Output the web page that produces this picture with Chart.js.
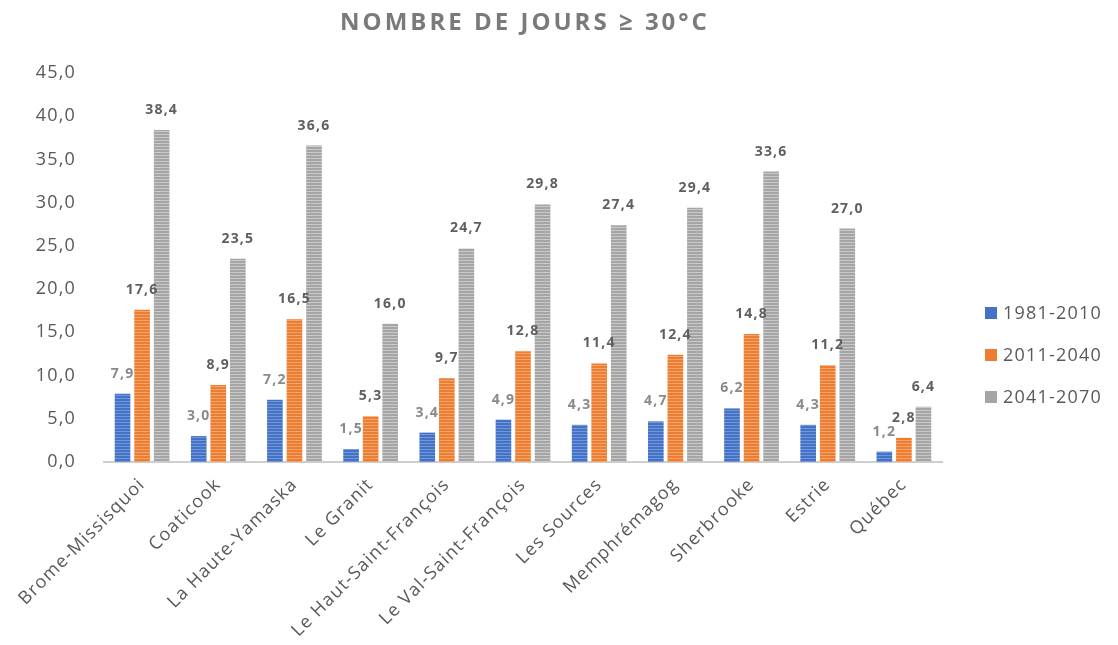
<!DOCTYPE html>
<html>
<head>
<meta charset="utf-8">
<title>Nombre de jours ≥ 30°C</title>
<script src="https://cdn.jsdelivr.net/npm/chart.js@4.4.1/dist/chart.umd.min.js"></script>
<style>
  html, body { margin: 0; padding: 0; background: #fff; }
  #wrap { width: 1118px; height: 645px; }
</style>
</head>
<body>
<div id="wrap"><canvas id="chart"></canvas></div>
<script>
// Données
const categories = ['Brome-Missisquoi', 'Coaticook', 'La Haute-Yamaska', 'Le Granit',
  'Le Haut-Saint-François', 'Le Val-Saint-François', 'Les Sources', 'Memphrémagog',
  'Sherbrooke', 'Estrie', 'Québec'];
const periodes = ['1981-2010', '2011-2040', '2041-2070'];
const jours1981 = [7.9, 3.0, 7.2, 1.5, 3.4, 4.9, 4.3, 4.7, 6.2, 4.3, 1.2];
const jours2011 = [17.6, 8.9, 16.5, 5.3, 9.7, 12.8, 11.4, 12.4, 14.8, 11.2, 2.8];
const jours2041 = [38.4, 23.5, 36.6, 16.0, 24.7, 29.8, 27.4, 29.4, 33.6, 27.0, 6.4];
const titre = 'NOMBRE DE JOURS ≥ 30°C';

const couleurs = ['#4472C4', '#ED7D31', '#A5A5A5'];
const rayures = ['#7196dc', '#f4a56e', '#c9c9c9'];
const couleursEtiquettes = ['#8a8a8a', '#5f5f5f', '#5f5f5f'];

const FONT = '"Open Sans", "Noto Sans", sans-serif';
const GRIS = '#595959';
const ESPACE = '1.2px'; // le texte de la référence est un peu étiré en largeur

// motif de rayures horizontales (comme dans Excel)
function motif(base, ligne) {
    const c = document.createElement('canvas');
    c.width = 4; c.height = 3;
    const g = c.getContext('2d');
    g.fillStyle = base; g.fillRect(0, 0, 4, 3);
    g.fillStyle = ligne; g.fillRect(0, 2, 4, 1);
    return g.createPattern(c, 'repeat');
}

const fmt = v => v.toFixed(1).replace('.', ',');

// espacement des lettres appliqué à tout le canvas (reset à chaque redimensionnement)
const pluginEspacement = {
    id: 'espacement',
    beforeUpdate(chart) { chart.ctx.letterSpacing = ESPACE; },
    beforeDraw(chart) { chart.ctx.letterSpacing = ESPACE; }
};

const pluginTitre = {
    id: 'titre',
    afterDraw(chart) {
        const ctx = chart.ctx;
        const a = chart.chartArea;
        ctx.save();
        ctx.font = 'bold 24px ' + FONT;
        ctx.letterSpacing = '3px';
        ctx.fillStyle = '#7a7a7a';
        ctx.textAlign = 'center';
        ctx.textBaseline = 'middle';
        ctx.fillText(titre, (a.left + a.right) / 2 + 2, 23);
        ctx.restore();
    }
};

const pluginEtiquettes = {
    id: 'etiquettes',
    afterDatasetsDraw(chart) {
        const ctx = chart.ctx;
        ctx.save();
        ctx.font = 'bold 14px ' + FONT;
        ctx.textAlign = 'center';
        ctx.textBaseline = 'bottom';
        chart.data.datasets.forEach((ds, i) => {
            ctx.fillStyle = couleursEtiquettes[i];
            chart.getDatasetMeta(i).data.forEach((bar, j) => {
                ctx.fillText(fmt(ds.data[j]), bar.x, bar.y - 13);
            });
        });
        ctx.restore();
    }
};

const pluginLegende = {
    id: 'legende',
    afterDraw(chart) {
        const ctx = chart.ctx;
        ctx.save();
        ctx.font = '18px ' + FONT;
        ctx.textBaseline = 'middle';
        periodes.forEach((p, i) => {
            const y = 313 + i * 42;
            ctx.fillStyle = couleurs[i];
            ctx.fillRect(985, y - 6, 12, 12);
            ctx.fillStyle = GRIS;
            ctx.fillText(p, 1003, y + 1);
        });
        ctx.restore();
    }
};

const series = [jours1981, jours2011, jours2041];

new Chart(document.getElementById('chart'), {
    type: 'bar',
    data: {
        labels: categories,
        datasets: series.map((d, i) => ({
            label: periodes[i],
            data: d,
            backgroundColor: motif(couleurs[i], rayures[i]),
            borderWidth: 0,
            categoryPercentage: 0.77,
            barPercentage: 0.8
        }))
    },
    options: {
        responsive: true,
        maintainAspectRatio: false,
        animation: false,
        layout: { padding: { top: 73, right: 176, bottom: 0, left: 0 } },
        plugins: {
            legend: { display: false },
            title: { display: false },
            tooltip: { enabled: false }
        },
        scales: {
            x: {
                grid: { display: false },
                border: { display: true, color: '#cfcfcf', width: 2 },
                ticks: {
                    color: GRIS,
                    font: { family: FONT, size: 18 },
                    minRotation: 45,
                    maxRotation: 45,
                    padding: 4
                },
                afterFit(scale) { scale.height = 183; }
            },
            y: {
                min: 0,
                max: 45,
                grid: { display: false },
                border: { display: false },
                ticks: {
                    stepSize: 5,
                    color: GRIS,
                    font: { family: FONT, size: 18 },
                    padding: 20,
                    callback: v => fmt(v)
                },
                afterFit(scale) { scale.width = 104; }
            }
        }
    },
    plugins: [pluginEspacement, pluginTitre, pluginEtiquettes, pluginLegende]
});
</script>
</body>
</html>
